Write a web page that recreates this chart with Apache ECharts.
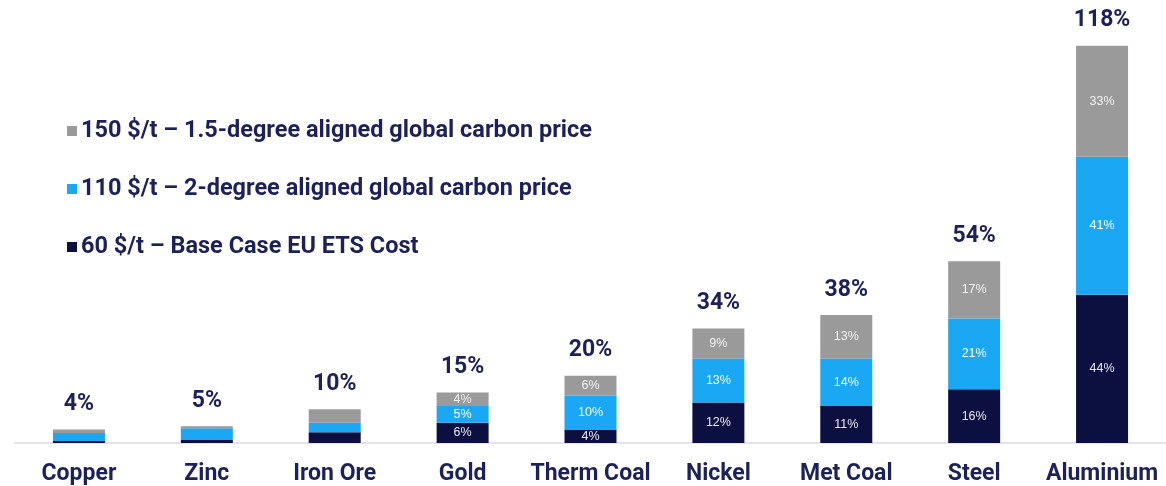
<!DOCTYPE html>
<html>
<head>
<meta charset="utf-8">
<script src="https://cdn.jsdelivr.net/npm/echarts@6/dist/echarts.min.js"></script>
<style>
  html, body { margin: 0; padding: 0; background: #ffffff; }
  #chart { width: 1166px; height: 486px; }
</style>
</head>
<body>
<div id="chart"></div>
<script>
// Commodities on the x axis
const categories = ['Copper', 'Zinc', 'Iron Ore', 'Gold', 'Therm Coal', 'Nickel', 'Met Coal', 'Steel', 'Aluminium'];

// Cost increase (%) by carbon price scenario, stacked bottom to top
const base60 = [0.6, 0.9, 3.2, 6, 4, 12, 11, 16, 44];
const deg2_110 = [2.4, 3.5, 2.8, 5, 10, 13, 14, 21, 41];
const deg15_150 = [1.0, 0.6, 4.0, 4, 6, 9, 13, 17, 33];

// Totals printed above each column
const totals = [4, 5, 10, 15, 20, 34, 38, 54, 118];

// Columns small enough that segment values are left unlabelled
const unlabelled = ['Copper', 'Zinc', 'Iron Ore'];

const names = {
  top: '150 $/t \u2013 1.5-degree aligned global carbon price',
  mid: '110 $/t \u2013 2-degree aligned global carbon price',
  base: '60 $/t \u2013 Base Case EU ETS Cost'
};

const NAVY = '#0b1040';
const BLUE = '#1aa8f4';
const GREY = '#9a9a9a';
const TEXT = '#1c2259';

function segLabel(color) {
  return {
    show: true,
    position: 'inside',
    color: color,
    fontFamily: 'Liberation Sans',
    fontSize: 12.5,
    formatter: p => unlabelled.includes(p.name) ? '' : p.value + '%'
  };
}

const chart = echarts.init(document.getElementById('chart'));
chart.setOption({
  animation: false,
  backgroundColor: '#ffffff',
  grid: { left: 15, right: -1, top: 39, bottom: 41 },
  legend: {
    orient: 'vertical',
    left: 62,
    top: 114,
    itemWidth: 10,
    itemHeight: 10,
    itemGap: 34,
    icon: 'rect',
    data: [names.top, names.mid, names.base],
    textStyle: { fontFamily: 'Roboto', fontWeight: 'bold', fontSize: 23.5, color: TEXT, padding: [0, 0, 0, -1] }
  },
  xAxis: {
    type: 'category',
    data: categories,
    axisLine: { show: true, lineStyle: { color: '#e4e4e4', width: 2 } },
    axisTick: { show: false },
    axisLabel: { interval: 0, fontFamily: 'Roboto', fontWeight: 'bold', fontSize: 23, color: TEXT, margin: 20 }
  },
  yAxis: { type: 'value', min: 0, max: 120, show: false, splitLine: { show: false } },
  series: [
    {
      name: names.base, type: 'bar', stack: 'cost', barWidth: 52,
      data: base60, itemStyle: { color: NAVY }, label: segLabel('#e8e8f0')
    },
    {
      name: names.mid, type: 'bar', stack: 'cost', barWidth: 52,
      data: deg2_110, itemStyle: { color: BLUE }, label: segLabel('#ffffff')
    },
    {
      name: names.top, type: 'bar', stack: 'cost', barWidth: 52,
      data: deg15_150, itemStyle: { color: GREY }, label: segLabel('#f2f2f2')
    },
    {
      name: 'total', type: 'line', data: totals,
      symbol: 'circle', symbolSize: 1, itemStyle: { color: 'rgba(0,0,0,0)' },
      lineStyle: { width: 0, color: 'rgba(0,0,0,0)' }, silent: true,
      label: {
        show: true, position: 'top', distance: 13, opacity: 1,
        fontFamily: 'Roboto', fontWeight: 'bold', fontSize: 23, color: TEXT,
        formatter: p => p.value + '%'
      }
    }
  ]
});
</script>
</body>
</html>
